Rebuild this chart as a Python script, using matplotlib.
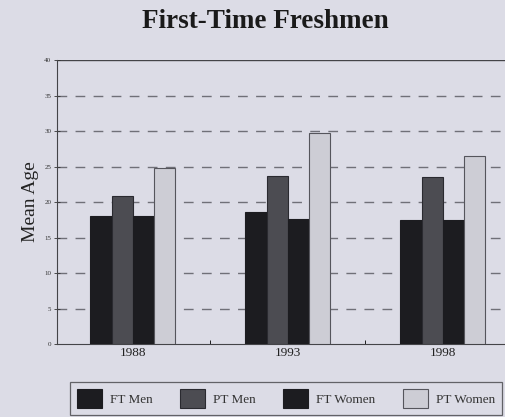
import matplotlib.pyplot as plt
from matplotlib.patches import Patch
import numpy as np

years = ["1988", "1993", "1998"]
series = ["FT Men", "PT Men", "FT Women", "PT Women"]
ft_men = [18.0, 18.6, 17.5]
pt_men = [20.8, 23.7, 23.5]
ft_women = [18.0, 17.6, 17.5]
pt_women = [24.8, 29.7, 26.5]

values = [ft_men, pt_men, ft_women, pt_women]
colors = ["#1c1c20", "#4c4c52", "#1c1c20", "#cdcdd5"]
edges = ["#1c1c20", "#2a2a30", "#1c1c20", "#55555c"]
bg = "#dcdce6"

plt.rcParams['font.family'] = ['Liberation Serif', 'DejaVu Serif']

fig = plt.figure(figsize=(5.06, 4.17), dpi=100, facecolor=bg)
ax = fig.add_axes([0.1126, 0.175, 0.919, 0.681], facecolor=bg)

x = np.arange(len(years))
width = 0.137
for i, (vals, c, e) in enumerate(zip(values, colors, edges)):
    offs = (i - 1.5) * width
    ax.bar(x + offs, vals, width, color=c, edgecolor=e, linewidth=0.8, zorder=3)

ax.set_ylim(0, 40)
ax.set_xlim(-0.49, 2.51)
ax.set_yticks(np.arange(0, 41, 5))
ax.tick_params(axis='y', labelsize=5, length=4, direction='inout', width=0.6, pad=2, colors='#333333')
ax.set_xticks(x)
ax.set_xticklabels(years, fontsize=9.5, color='#222222')
ax.tick_params(axis='x', length=0, pad=2)
ax.set_xticks([0.5, 1.5], minor=True)
ax.tick_params(axis='x', which='minor', length=3, direction='in', width=0.6)

for yv in range(5, 40, 5):
    ax.axhline(yv, color='#707078', linestyle=(0, (7, 6)), linewidth=1.0, zorder=1)
ax.axhline(40, color='#444448', linewidth=1.0, zorder=1)

for side in ['top', 'right']:
    ax.spines[side].set_visible(False)
ax.spines['left'].set_color('#444448')
ax.spines['bottom'].set_color('#444448')
ax.spines['left'].set_linewidth(0.8)
ax.spines['bottom'].set_linewidth(0.8)

ax.set_ylabel("Mean Age", fontsize=14, labelpad=4, color='#222222')
fig.text(0.525, 0.948, "First-Time Freshmen", ha='center', va='center',
         fontsize=19.5, fontweight='bold', color='#1a1a1a')

handles = [Patch(facecolor=c, edgecolor=e, linewidth=0.8) for c, e in zip(colors, edges)]
leg = fig.legend(handles, series, loc='lower left', ncol=4,
                 bbox_to_anchor=(70 / 506, 2 / 417, 432 / 506, 39 / 417),
                 mode='expand', fontsize=9.5, frameon=True, fancybox=False,
                 handlelength=1.9, handleheight=1.9, handletextpad=0.6,
                 borderaxespad=0, borderpad=0.5, columnspacing=1.0)
leg.get_frame().set_facecolor(bg)
leg.get_frame().set_edgecolor('#444448')
leg.get_frame().set_linewidth(0.9)
for t in leg.get_texts():
    t.set_color('#333333')

fig.savefig("out.png", dpi=100, facecolor=bg)
